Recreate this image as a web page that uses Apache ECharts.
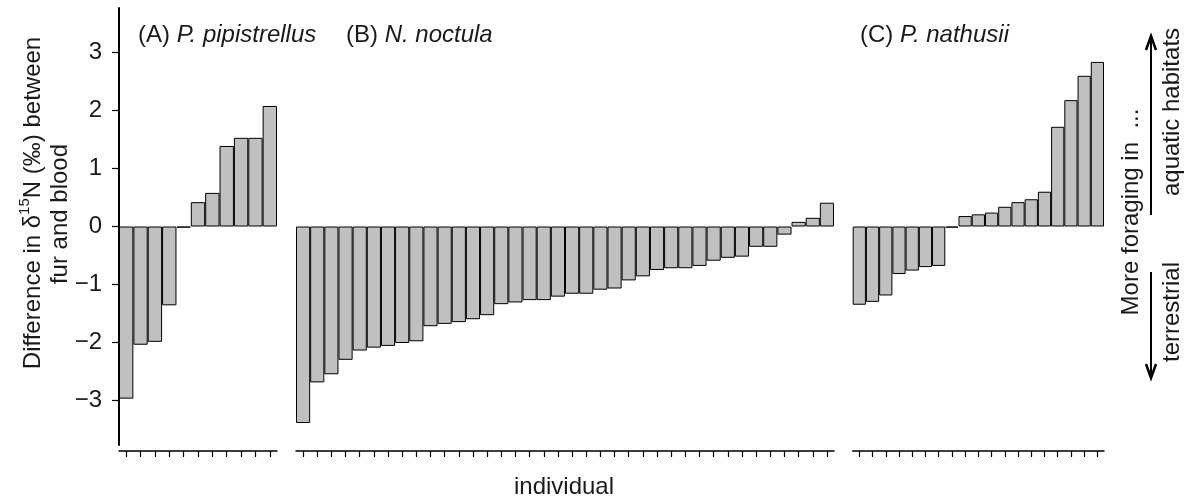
<!DOCTYPE html>
<html>
<head>
<meta charset="utf-8">
<script src="https://cdn.jsdelivr.net/npm/echarts@6/dist/echarts.min.js"></script>
<title>d15N fur vs blood</title>
<style>html,body{margin:0;padding:0;background:#fff}</style>
</head>
<body>
<div id="main" style="width:1186px;height:498px;"></div>
<script>
// differences in d15N (fur - blood), per individual, sorted
var valsA = [-2.97, -2.04, -1.99, -1.36, -0.02, 0.42, 0.58, 1.39, 1.53, 1.53, 2.08];
var valsB = [-3.39, -2.69, -2.55, -2.30, -2.14, -2.09, -2.06, -2.01, -1.98, -1.72,
             -1.68, -1.65, -1.60, -1.53, -1.34, -1.31, -1.27, -1.27, -1.21, -1.16,
             -1.16, -1.09, -1.07, -0.93, -0.86, -0.75, -0.72, -0.72, -0.68, -0.59,
             -0.54, -0.52, -0.35, -0.35, -0.14, 0.08, 0.15, 0.41];
var valsC = [-1.35, -1.30, -1.19, -0.82, -0.76, -0.70, -0.68, -0.02, 0.18, 0.21,
             0.24, 0.34, 0.42, 0.47, 0.60, 1.72, 2.18, 2.60, 2.84];
var yTicks = [-3, -2, -1, 0, 1, 2, 3];
var panelTitles = [['(A) ', 'P. pipistrellus'], ['(B) ', 'N. noctula'], ['(C) ', 'P. nathusii']];

function ids(arr) { return arr.map(function (v, i) { return String(i + 1); }); }

var font = "'Liberation Sans', Arial, sans-serif";
var fs = 24;
var ink = '#1a1a1a';

var chart = echarts.init(document.getElementById('main'));

function xAxisFor(i, cats) {
    return {
        type: 'category', gridIndex: i, data: cats, offset: 6,
        axisLine: { onZero: false, lineStyle: { color: '#000', width: 1.5 } },
        axisTick: { show: true, interval: 0, alignWithLabel: true, length: 6, lineStyle: { color: '#000', width: 1.2 } },
        axisLabel: { show: true, interval: 0, formatter: function () { return ''; } },
        splitLine: { show: false }
    };
}
function yAxisFor(i, show) {
    return {
        type: 'value', gridIndex: i, min: -3.77, max: 3.77, show: show,
        axisLine: { show: true, lineStyle: { color: '#000', width: 2 } },
        axisTick: { show: true, length: 7, customValues: yTicks, lineStyle: { color: '#000', width: 1.2 } },
        axisLabel: {
            customValues: yTicks, margin: 17, fontSize: fs, fontFamily: font, color: ink,
            formatter: function (v) { return String(v).replace('-', '\u2212'); }
        },
        splitLine: { show: false }
    };
}
function barSeries(i, vals) {
    return {
        type: 'bar', xAxisIndex: i, yAxisIndex: i, data: vals,
        barCategoryGap: '0%',
        itemStyle: { color: '#c0c0c0', borderColor: '#000', borderWidth: 1 }
    };
}
function titleText(x, y, t) {
    return {
        type: 'text', x: x, y: y,
        style: {
            text: '{r|' + t[0] + '}{i|' + t[1] + '}', verticalAlign: 'middle',
            rich: {
                r: { fontSize: fs, fontFamily: font, fill: ink },
                i: { fontSize: fs, fontFamily: font, fontStyle: 'italic', fill: ink }
            }
        }
    };
}
function vText(x, y, txt, rich) {
    var el = {
        type: 'text', x: x, y: y, rotation: Math.PI / 2,
        style: { text: txt, align: 'center', verticalAlign: 'middle', fontSize: fs, fontFamily: font, fill: ink }
    };
    if (rich) el.style.rich = rich;
    return el;
}
function arrow(x, y1, y2) {
    var d = y2 > y1 ? -1 : 1;
    return [
        { type: 'line', shape: { x1: x, y1: y1, x2: x, y2: y2 }, style: { stroke: '#000', lineWidth: 2 } },
        { type: 'polyline', shape: { points: [[x - 5, y2 + d * 14], [x, y2], [x + 5, y2 + d * 14]] },
          style: { stroke: '#000', lineWidth: 2.5, fill: null } }
    ];
}

var option = {
    animation: false,
    grid: [
        { left: 119, top: 8, width: 158, height: 437 },
        { left: 296, top: 8, width: 538, height: 437 },
        { left: 852.7, top: 8, width: 251.3, height: 437 }
    ],
    xAxis: [xAxisFor(0, ids(valsA)), xAxisFor(1, ids(valsB)), xAxisFor(2, ids(valsC))],
    yAxis: [yAxisFor(0, true), yAxisFor(1, false), yAxisFor(2, false)],
    series: [barSeries(0, valsA), barSeries(1, valsB), barSeries(2, valsC)],
    graphic: [
        titleText(138, 35, panelTitles[0]),
        titleText(346, 35, panelTitles[1]),
        titleText(860, 35, panelTitles[2]),
        vText(31, 203, '{n|Difference in \u03b4}{s|15}{n|N (\u2030) between}', {
            n: { fontSize: fs, fontFamily: font, fill: ink, lineHeight: 28, verticalAlign: 'bottom' },
            s: { fontSize: 15, fontFamily: font, fill: ink, lineHeight: 15, verticalAlign: 'top' }
        }),
        vText(60, 214, 'fur and blood'),
        { type: 'text', x: 564, y: 487, style: { text: 'individual', align: 'center', verticalAlign: 'middle', fontSize: fs, fontFamily: font, fill: ink } },
        vText(1131, 212, 'More foraging in  ...'),
        vText(1172, 112, 'aquatic habitats'),
        vText(1172, 312, 'terrestrial')
    ].concat(arrow(1151, 215, 36)).concat(arrow(1151, 272, 378))
};
chart.setOption(option);
</script>
</body>
</html>
